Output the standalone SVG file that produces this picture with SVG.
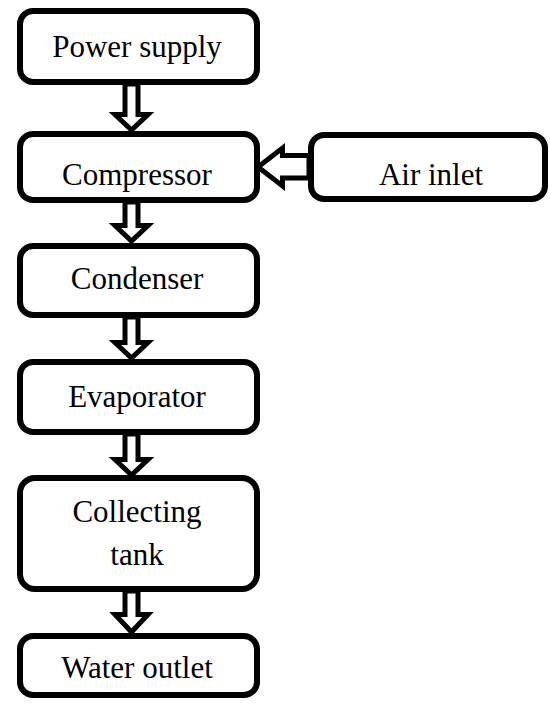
<svg xmlns="http://www.w3.org/2000/svg" width="550" height="704" viewBox="0 0 550 704">
<style>
.box{fill:#fff;stroke:#000;stroke-width:6}
.arr{fill:#fff;stroke:#000;stroke-width:5;stroke-linejoin:miter;stroke-miterlimit:10}
text{font-family:"Liberation Serif","Times New Roman",serif;font-size:31px;fill:#000;text-anchor:middle}
</style>
<rect width="550" height="704" fill="#fff"/>
<g id="power-supply"><rect class="box" x="20" y="11" width="237" height="71" rx="13"/><text x="137" y="57">Power supply</text></g>
<g id="compressor"><rect class="box" x="20" y="134" width="237" height="66" rx="13"/><text x="137" y="185">Compressor</text></g>
<g id="air-inlet"><rect class="box" x="311" y="135" width="234" height="64" rx="13"/><text x="431" y="185">Air inlet</text></g>
<g id="condenser"><rect class="box" x="20" y="246" width="237" height="69" rx="13"/><text x="137" y="289">Condenser</text></g>
<g id="evaporator"><rect class="box" x="20" y="362" width="237" height="70" rx="13"/><text x="137" y="407">Evaporator</text></g>
<g id="collecting-tank"><rect class="box" x="20" y="478" width="237" height="111" rx="15"/><text x="137" y="522">Collecting</text><text x="137" y="565">tank</text></g>
<g id="water-outlet"><rect class="box" x="20" y="636" width="237" height="59" rx="13"/><text x="137" y="678">Water outlet</text></g>
<g id="connectors">
<polygon class="arr" points="125,84 138,84 138,114.5 148,114.5 131.5,130 115,114.5 125,114.5"/>
<polygon class="arr" points="125,202 138,202 138,225.5 148,225.5 131.5,241 115,225.5 125,225.5"/>
<polygon class="arr" points="125,317 138,317 138,342.5 148,342.5 131.5,358 115,342.5 125,342.5"/>
<polygon class="arr" points="125,434 138,434 138,459.5 148,459.5 131.5,475 115,459.5 125,459.5"/>
<polygon class="arr" points="125,591 138,591 138,614.5 148,614.5 131.5,632 115,614.5 125,614.5"/>
<polygon class="arr" points="309,155.5 282.5,155.5 282.5,148 258,167 282.5,186 282.5,178 309,178"/>
</g>
</svg>
